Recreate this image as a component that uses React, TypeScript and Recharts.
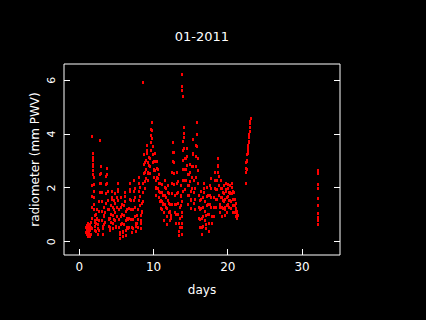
import { Scatter, ScatterChart, XAxis, YAxis } from 'recharts'

// Radiometer PWV readings for January 2011 as [day, mm PWV]

type Pt = [number, number]

const daysOneToSeven: Pt[] = [
  [0.92, 0.55], [0.96, 0.35], [1.0, 0.62], [1.04, 0.45], [1.08, 0.28], [1.12, 0.5], [1.16, 0.7], [1.2, 0.4],
  [1.24, 0.22], [1.28, 0.48], [1.32, 0.6], [1.36, 0.33], [1.4, 0.2], [1.44, 0.42], [1.48, 0.66], [1.52, 0.5],
  [1.56, 0.3], [1.6, 0.55], [1.64, 0.72], [1.68, 0.5], [1.7, 3.93],
  [1.72, 0.9], [1.74, 1.3], [1.76, 1.7], [1.78, 2.1], [1.8, 2.5], [1.82, 2.8], [1.84, 3.05], [1.86, 3.3],
  [1.88, 3.15], [1.9, 2.9], [1.92, 2.65], [1.94, 2.4], [1.96, 2.15], [1.98, 1.9], [2.0, 1.65], [2.02, 1.4],
  [2.04, 1.2], [2.06, 1.0], [2.08, 0.8], [2.1, 0.6], [2.14, 0.45], [2.18, 0.75], [2.22, 1.05], [2.26, 0.7],
  [2.3, 0.4], [2.34, 0.9], [2.38, 1.2], [2.42, 0.85], [2.46, 0.5], [2.5, 0.3], [2.54, 0.65], [2.8, 3.78],
  [2.6, 0.45], [2.64, 0.8], [2.68, 1.15], [2.72, 1.5], [2.76, 1.85], [2.8, 2.2], [2.84, 2.5], [2.88, 2.8],
  [2.92, 2.55], [2.96, 2.2], [3.0, 1.85], [3.04, 1.5], [3.08, 1.15], [3.12, 0.8], [3.16, 0.5], [3.2, 0.3],
  [3.24, 0.6], [3.28, 0.95], [3.32, 1.3], [3.36, 1.0], [3.4, 0.65],
  [3.46, 0.75], [3.5, 1.1], [3.54, 1.45], [3.58, 1.8], [3.62, 2.15], [3.66, 2.45], [3.7, 2.75], [3.74, 2.5],
  [3.78, 2.2], [3.82, 1.9], [3.86, 1.55], [3.9, 1.2], [3.94, 0.9], [3.98, 0.6], [4.02, 0.85], [4.06, 1.2],
  [4.1, 0.9], [4.14, 0.55],
  [4.2, 0.45], [4.24, 0.75], [4.28, 1.05], [4.32, 1.35], [4.36, 1.65], [4.4, 1.9], [4.44, 1.6], [4.48, 1.3],
  [4.52, 1.0], [4.56, 0.7], [4.6, 0.5], [4.64, 0.85], [4.68, 1.2], [4.72, 1.55], [4.76, 1.8], [4.8, 1.45],
  [4.84, 1.1], [4.88, 0.8], [4.92, 0.55],
  [5.0, 0.6], [5.04, 0.95], [5.08, 1.3], [5.12, 1.65], [5.16, 1.95], [5.2, 2.2], [5.24, 1.9], [5.28, 1.55],
  [5.32, 1.2], [5.36, 0.85], [5.4, 0.55], [5.44, 0.3], [5.48, 0.15], [5.52, 0.35], [5.56, 0.65], [5.6, 0.95],
  [5.64, 1.3], [5.68, 1.65], [5.72, 1.4], [5.76, 1.05], [5.8, 0.7], [5.84, 0.4], [5.88, 0.2],
  [5.95, 0.35], [6.0, 0.65], [6.04, 1.0], [6.08, 1.35], [6.12, 1.7], [6.16, 1.85], [6.2, 1.5], [6.24, 1.15],
  [6.28, 0.8], [6.32, 0.45], [6.36, 0.25], [6.4, 0.55], [6.44, 0.9], [6.48, 1.2], [6.52, 0.85], [6.56, 0.5],
  [6.66, 0.55], [6.7, 0.9], [6.74, 1.25], [6.78, 1.6], [6.82, 1.95], [6.86, 2.2], [6.9, 1.9], [6.94, 1.55],
  [6.98, 1.2], [7.02, 0.85], [7.06, 0.55], [7.1, 0.35],
  [7.2, 0.5], [7.24, 0.85], [7.28, 1.2], [7.32, 1.55], [7.36, 1.9], [7.4, 2.3], [7.44, 2.0], [7.48, 1.65],
  [7.52, 1.3], [7.56, 0.95], [7.6, 0.6], [7.64, 0.4], [7.68, 0.7], [7.72, 1.0], [7.76, 0.7],
]

const daysEightToThirteen: Pt[] = [
  [7.86, 0.55], [7.9, 0.85], [7.94, 1.2], [7.98, 1.55], [8.02, 1.9], [8.06, 2.2], [8.1, 2.4], [8.14, 2.05],
  [8.18, 1.7], [8.22, 1.35], [8.26, 1.0], [8.3, 0.7], [8.34, 0.5], [8.38, 0.8], [8.42, 1.15], [8.46, 1.45],
  [8.5, 1.1], [8.55, 5.95],
  [8.56, 1.5], [8.6, 1.85], [8.64, 2.2], [8.68, 2.55], [8.72, 2.9], [8.76, 3.25], [8.8, 2.95], [8.84, 2.6],
  [8.88, 2.25], [8.92, 2.0], [8.96, 2.35], [9.0, 2.7], [9.04, 3.05], [9.08, 3.4], [9.12, 3.6], [9.16, 3.3],
  [9.2, 2.95], [9.24, 2.6], [9.28, 2.3], [9.32, 2.55], [9.36, 2.85], [9.4, 3.15], [9.44, 2.85], [9.48, 2.55],
  [9.52, 2.8], [9.56, 3.1], [9.6, 3.4], [9.64, 3.7], [9.68, 3.95], [9.72, 4.2], [9.76, 4.45], [9.8, 4.15],
  [9.84, 3.85], [9.88, 3.55], [9.92, 3.25], [9.96, 2.95], [10.0, 2.65], [10.04, 2.4], [10.08, 2.7], [10.12, 3.0],
  [10.16, 3.3], [10.2, 3.0], [10.24, 2.65], [10.28, 2.3], [10.32, 2.0], [10.36, 1.75],
  [10.4, 2.05], [10.44, 2.4], [10.48, 2.75], [10.52, 3.0], [10.56, 2.7], [10.6, 2.35], [10.64, 2.0], [10.68, 1.65],
  [10.72, 1.9], [10.76, 2.2], [10.8, 2.5], [10.84, 2.2], [10.88, 1.85], [10.92, 1.5], [10.96, 1.25], [11.0, 1.55],
  [11.04, 1.85], [11.08, 2.15], [11.12, 1.85], [11.16, 1.5], [11.2, 1.2], [11.24, 1.45], [11.28, 1.75], [11.32, 1.4],
  [11.36, 1.1],
  [11.4, 0.8], [11.44, 1.1], [11.48, 1.4], [11.52, 1.75], [11.56, 2.05], [11.6, 2.3], [11.64, 2.0], [11.68, 1.65],
  [11.72, 1.3], [11.76, 0.95], [11.8, 0.65], [11.84, 0.95], [11.88, 1.25], [11.92, 1.55], [11.96, 1.85], [12.0, 2.1],
  [12.04, 1.8], [12.08, 1.45], [12.12, 1.1], [12.16, 0.8], [12.2, 1.1], [12.24, 1.4], [12.28, 1.15], [12.32, 0.9],
  [12.38, 1.0], [12.42, 1.4], [12.46, 1.8], [12.5, 2.2], [12.54, 2.6], [12.58, 3.0], [12.62, 3.35], [12.66, 3.7],
  [12.7, 3.35], [12.74, 2.95], [12.78, 2.55], [12.82, 2.15], [12.86, 1.75], [12.9, 1.4], [12.94, 1.1],
  [13.0, 0.7], [13.04, 1.05], [13.08, 1.4], [13.12, 1.8], [13.16, 2.2], [13.2, 2.6], [13.24, 2.25], [13.28, 1.85],
  [13.32, 1.45], [13.36, 1.05], [13.4, 0.7], [13.44, 0.4], [13.48, 0.25], [13.52, 0.55], [13.56, 0.9], [13.6, 1.3],
  [13.64, 1.7], [13.68, 2.1], [13.72, 1.75], [13.76, 1.35],
]

const daysFourteenToEighteen: Pt[] = [
  [13.85, 6.22], [13.87, 5.8], [13.89, 5.65], [13.92, 5.4],
  [13.8, 0.95], [13.82, 0.55], [13.84, 0.3], [13.86, 0.7], [13.88, 1.1], [13.9, 1.5], [13.92, 1.9], [13.94, 2.3],
  [13.96, 2.7], [13.98, 3.05], [14.0, 3.4], [14.02, 3.75], [14.04, 4.05], [14.06, 4.27], [14.1, 3.9], [14.14, 3.5],
  [14.18, 3.1], [14.22, 2.7], [14.26, 2.3], [14.3, 1.95],
  [14.34, 2.3], [14.38, 2.7], [14.42, 3.1], [14.46, 3.5], [14.5, 3.2], [14.54, 2.85], [14.58, 2.5], [14.62, 2.1],
  [14.66, 1.75], [14.7, 1.4], [14.74, 1.75], [14.78, 2.1], [14.82, 2.5], [14.86, 2.9], [14.9, 2.6], [14.94, 2.25],
  [14.98, 1.9], [15.02, 1.55], [15.06, 1.25], [15.1, 1.6], [15.14, 2.0], [15.18, 2.4], [15.22, 2.8], [15.26, 3.25],
  [15.3, 3.8], [15.34, 3.3], [15.38, 2.8], [15.42, 2.3], [15.46, 1.85], [15.5, 1.45],
  [15.54, 1.2], [15.58, 1.6], [15.62, 2.0], [15.66, 2.4], [15.7, 2.8], [15.74, 3.2], [15.78, 3.6], [15.8, 4.0],
  [15.82, 4.45], [15.86, 4.0], [15.9, 3.55], [15.94, 3.1], [15.98, 2.65], [16.02, 2.2], [16.06, 1.75], [16.1, 1.3],
  [16.14, 0.9],
  [16.2, 0.55], [16.24, 0.85], [16.28, 1.2], [16.32, 1.55], [16.36, 1.9], [16.4, 1.6], [16.44, 1.25], [16.48, 0.9],
  [16.52, 0.55], [16.56, 0.3], [16.6, 0.6], [16.64, 0.95], [16.68, 1.3], [16.72, 1.65], [16.76, 2.0], [16.8, 2.2],
  [16.84, 1.85], [16.88, 1.5], [16.92, 1.15], [16.96, 0.8], [17.0, 0.5],
  [17.08, 0.65], [17.12, 1.0], [17.16, 1.35], [17.2, 1.7], [17.24, 2.05], [17.28, 1.75], [17.32, 1.4], [17.36, 1.05],
  [17.4, 0.7], [17.44, 0.4], [17.48, 0.7], [17.52, 1.05], [17.56, 1.4], [17.6, 1.75], [17.64, 2.1], [17.68, 2.35],
  [17.72, 2.0], [17.76, 1.65], [17.8, 1.3], [17.84, 0.95], [17.88, 0.7],
  [18.1, 0.95], [18.14, 1.3], [18.18, 1.65], [18.22, 2.0], [18.26, 2.3], [18.3, 2.6], [18.34, 2.3], [18.38, 1.95],
  [18.42, 1.6], [18.46, 1.3], [18.5, 1.6], [18.54, 1.95], [18.58, 2.3], [18.62, 2.6], [18.66, 2.85], [18.7, 3.1],
  [18.74, 2.8], [18.78, 2.45], [18.82, 2.1], [18.86, 1.75], [18.9, 1.4], [18.94, 1.1],
]

const daysNineteenToTwentyThree: Pt[] = [
  [19.0, 1.3], [19.04, 1.65], [19.08, 2.0], [19.12, 2.3], [19.16, 2.0], [19.2, 1.65], [19.24, 1.3], [19.28, 0.95],
  [19.32, 1.25], [19.36, 1.55], [19.4, 1.85], [19.44, 2.1], [19.48, 1.8], [19.52, 1.5], [19.56, 1.2], [19.6, 1.0],
  [19.64, 1.3], [19.68, 1.6], [19.72, 1.9], [19.76, 2.2], [19.8, 1.95], [19.84, 1.65], [19.88, 1.35], [19.92, 1.1],
  [19.96, 1.4], [20.0, 1.7], [20.04, 2.0], [20.08, 2.15], [20.12, 1.85], [20.16, 1.55], [20.2, 1.3], [20.24, 1.55],
  [20.28, 1.85], [20.32, 2.1], [20.36, 1.8], [20.4, 1.5], [20.44, 1.25], [20.48, 1.5], [20.52, 1.8], [20.56, 2.05],
  [20.6, 2.2], [20.64, 1.9], [20.68, 1.6], [20.72, 1.35], [20.76, 1.1], [20.8, 1.35], [20.84, 1.6], [20.88, 1.85],
  [20.92, 1.6], [20.96, 1.35], [21.0, 1.1], [21.04, 0.95], [21.08, 1.2], [21.12, 1.45], [21.16, 1.25], [21.2, 1.05],
  [21.24, 0.9], [21.28, 1.15], [21.32, 1.0],
  [22.42, 2.2],
  [22.45, 2.6], [22.48, 2.75], [22.51, 2.95], [22.54, 2.7], [22.57, 3.05], [22.6, 3.25], [22.63, 3.0], [22.66, 3.35],
  [22.69, 3.5], [22.72, 3.3], [22.75, 3.6], [22.78, 3.45], [22.81, 3.75], [22.84, 3.9], [22.87, 3.7], [22.9, 4.0],
  [22.93, 4.1], [22.96, 4.25], [23.0, 4.4], [23.04, 4.5], [23.08, 4.6],
]

const dayThirtyTwo: Pt[] = [
  [32.08, 2.67], [32.08, 2.55], [32.1, 2.15], [32.1, 2.0], [32.12, 1.63], [32.12, 1.37], [32.14, 1.07],
  [32.16, 0.92], [32.14, 0.8], [32.16, 0.66],
]

const xTicks = [0, 10, 20, 30]
const yTicks = [0, 2, 4, 6]
const xDomain: [number, number] = [-2.05, 35.1]
const yDomain: [number, number] = [-0.49, 6.6]

const title = '01-2011'
const xLabel = 'days'
const yLabel = 'radiometer (mm PWV)'

const W = 426
const H = 320
// plot box edges in px (set by the margins below)
const BOX = { left: 64, right: 340, top: 64, bottom: 255 }
const TICK = 6
const FONT = '"DejaVu Sans", sans-serif'
const FG = '#ffffff'

const points = [
  ...daysOneToSeven,
  ...daysEightToThirteen,
  ...daysFourteenToEighteen,
  ...daysNineteenToTwentyThree,
  ...dayThirtyTwo,
].map(([day, pwv]) => ({ day, pwv }))

function BottomTick({ x, payload }: any) {
  return (
    <g>
      <line x1={x} y1={BOX.bottom} x2={x} y2={BOX.bottom - TICK} stroke={FG} shapeRendering="crispEdges" />
      <text x={x} y={BOX.bottom + 16} textAnchor="middle" fill={FG} fontSize={12} fontFamily={FONT}>
        {payload.value}
      </text>
    </g>
  )
}

function TopTick({ x }: any) {
  return <line x1={x} y1={BOX.top} x2={x} y2={BOX.top + TICK} stroke={FG} shapeRendering="crispEdges" />
}

function LeftTick({ y, payload }: any) {
  const tx = 55.5
  return (
    <g>
      <line x1={BOX.left} y1={y} x2={BOX.left + TICK} y2={y} stroke={FG} shapeRendering="crispEdges" />
      <text
        x={tx}
        y={y}
        transform={`rotate(-90, ${tx}, ${y})`}
        textAnchor="middle"
        fill={FG}
        fontSize={11}
        fontFamily={FONT}
      >
        {payload.value}
      </text>
    </g>
  )
}

function RightTick({ y }: any) {
  return <line x1={BOX.right} y1={y} x2={BOX.right - TICK} y2={y} stroke={FG} shapeRendering="crispEdges" />
}

// small solid square, slightly taller than wide so the daily streaks read as bars
function Dot({ cx, cy }: any) {
  const x = Math.round(cx)
  const y = Math.round(cy)
  return <rect x={x - 1} y={y - 1} width={2} height={3} fill="#ff0000" shapeRendering="crispEdges" />
}

export default function App() {
  const midX = (BOX.left + BOX.right) / 2
  const midY = (BOX.top + BOX.bottom) / 2
  return (
    <div style={{ position: 'fixed', left: 0, top: 0, width: W, height: H, background: '#000' }}>
      <ScatterChart
        width={W}
        height={H}
        margin={{ top: BOX.top - 10, right: W - BOX.right - 10, bottom: H - BOX.bottom - 30, left: BOX.left - 30 }}
      >
        <XAxis
          xAxisId="b"
          type="number"
          dataKey="day"
          domain={xDomain}
          ticks={xTicks}
          allowDataOverflow
          height={30}
          axisLine={{ stroke: FG }}
          tickLine={false}
          tick={<BottomTick />}
        />
        <XAxis
          xAxisId="t"
          orientation="top"
          type="number"
          domain={xDomain}
          ticks={xTicks}
          allowDataOverflow
          height={10}
          axisLine={{ stroke: FG }}
          tickLine={false}
          tick={<TopTick />}
        />
        <YAxis
          yAxisId="l"
          type="number"
          dataKey="pwv"
          domain={yDomain}
          ticks={yTicks}
          allowDataOverflow
          width={30}
          axisLine={{ stroke: FG }}
          tickLine={false}
          tick={<LeftTick />}
        />
        <YAxis
          yAxisId="r"
          orientation="right"
          type="number"
          domain={yDomain}
          ticks={yTicks}
          allowDataOverflow
          width={10}
          axisLine={{ stroke: FG }}
          tickLine={false}
          tick={<RightTick />}
        />
        <Scatter
          data={points}
          xAxisId="b"
          yAxisId="l"
          shape={<Dot />}
          isAnimationActive={false}
        />
        <text x={midX} y={41} textAnchor="middle" fill={FG} fontSize={13} fontFamily={FONT}>
          {title}
        </text>
        <text x={midX} y={294} textAnchor="middle" fill={FG} fontSize={12} fontFamily={FONT}>
          {xLabel}
        </text>
        <text
          x={38.5}
          y={midY}
          transform={`rotate(-90, 38.5, ${midY})`}
          textAnchor="middle"
          fill={FG}
          fontSize={12}
          fontFamily={FONT}
        >
          {yLabel}
        </text>
      </ScatterChart>
    </div>
  )
}
